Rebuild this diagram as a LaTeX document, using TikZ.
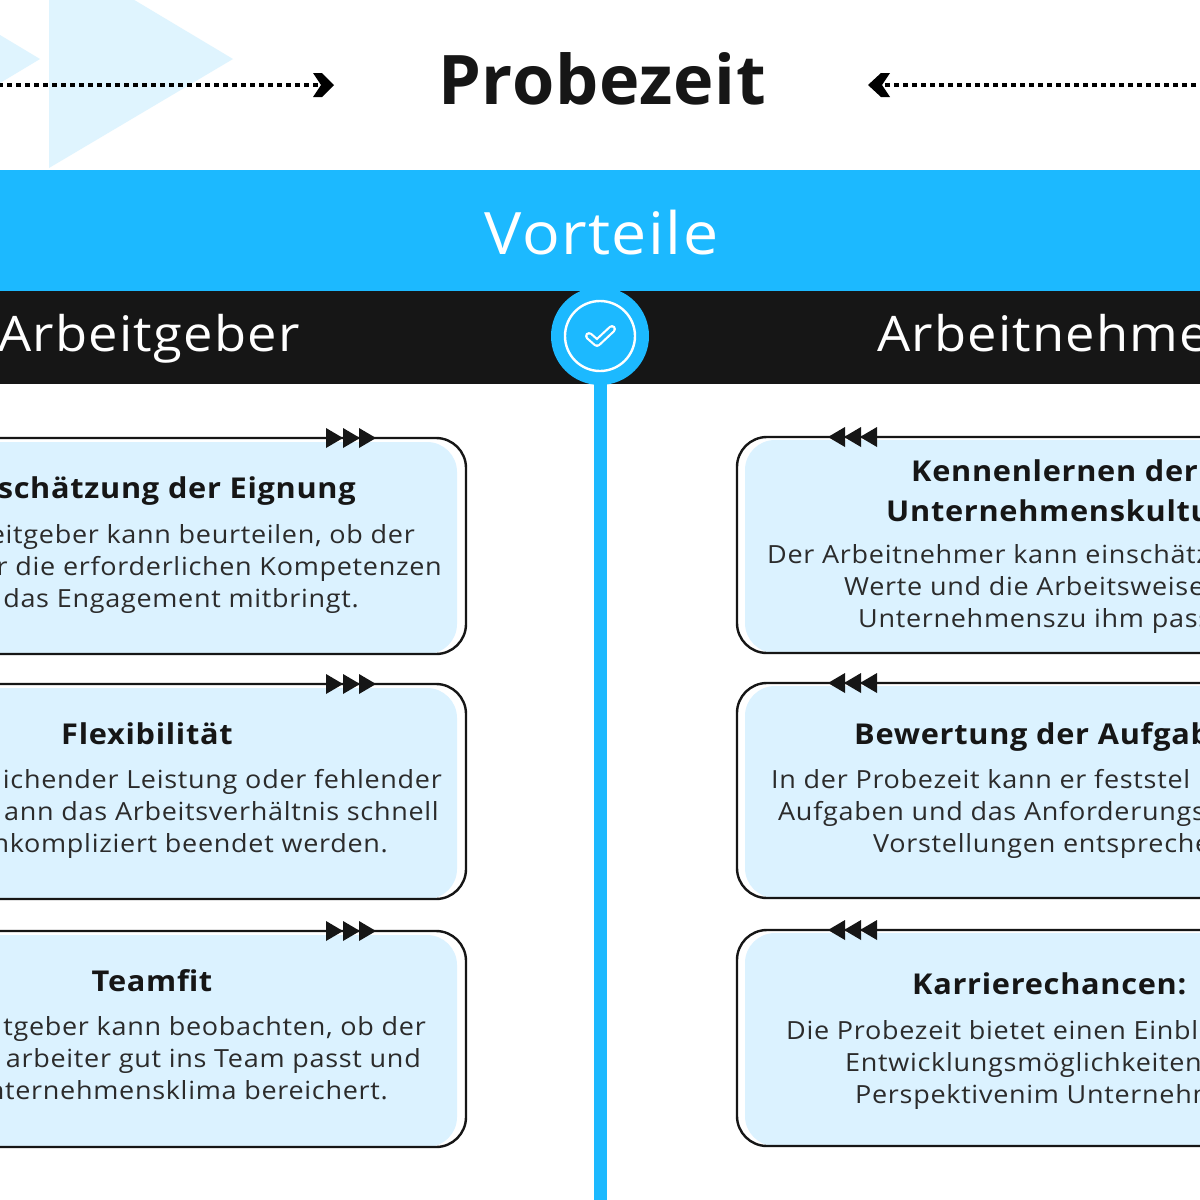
\documentclass[tikz,border=0pt]{standalone}
\usepackage{fontspec}
\setmainfont{Open Sans}[LetterSpace=2.5,FakeStretch=1.07]
\newfontfamily\titlefont{Open Sans}[LetterSpace=1]
\newfontfamily\parafont{Open Sans}[LetterSpace=2.8,FakeStretch=1.08]
\definecolor{sky}{HTML}{1CB9FF}
\definecolor{pale}{HTML}{DBF2FF}
\definecolor{tri}{HTML}{DFF4FE}
\definecolor{ink}{HTML}{161616}
\definecolor{bodyink}{HTML}{2B2B2B}
\tikzset{
  title/.style={inner sep=0pt,text=ink,font=\titlefont\fontsize{68.4}{68}\selectfont\bfseries},
  band/.style={inner sep=0pt,text=white,font=\fontsize{49}{49}\selectfont},
  head/.style={inner sep=0pt,text=ink,font=\fontsize{28.7}{29}\selectfont\bfseries},
  para/.style={inner sep=0pt,text=bodyink,font=\parafont\fontsize{25}{25}\selectfont},
  cardline/.style={draw=ink,line width=2.4pt,rounded corners=30pt},
  cardfill/.style={fill=pale,rounded corners=30pt},
  dots/.style={draw=black,line width=4.5pt,dash pattern=on 4.6pt off 4.4pt},
  chev/.style={fill=black,draw=none},
  tip/.style={fill=ink,draw=none}
}
\newcommand{\leftcard}[2]{%
  \fill[cardfill] (-60,#1+4) -- (457,#1+4) -- (457,#2) -- (-60,#2) -- cycle;
  \draw[cardline] (-60,#1) -- (466,#1) -- (466,#2) -- (-60,#2);
  \foreach \a in {326,343,359}{\fill[tip] (\a,#1-10) -- (\a+17,#1) -- (\a,#1+10) -- cycle;}
}
\newcommand{\rightcard}[2]{%
  \fill[cardfill] (1260,#1+3) -- (745,#1+3) -- (745,#2) -- (1260,#2) -- cycle;
  \draw[cardline] (1260,#1) -- (737,#1) -- (737,#2) -- (1260,#2);
  \foreach \a in {845,861,877}{\fill[tip] (\a,#1-10) -- (\a-17,#1) -- (\a,#1+10) -- cycle;}
}
\begin{document}
\begin{tikzpicture}[x=1pt,y=-1pt]
\useasboundingbox (0,0) rectangle (1200,1200);
\clip (0,0) rectangle (1200,1200);
\fill[white] (0,0) rectangle (1200,1200);
% triangles
\fill[tri] (49,-51) -- (233,59) -- (49,168) -- cycle;
\fill[tri] (-40,11) -- (40,59) -- (-40,107) -- cycle;
% title row
\node[title,anchor=base] (titel) at (602,104) {Probezeit};
\coordinate (la) at (-2,85);
\coordinate (lb) at (318,85);
\coordinate (ra) at (1196,85);
\coordinate (rb) at (885,85);
\draw[dots] (la) -- (lb);
\draw[dots] (ra) -- (rb);
\fill[chev] (313,73) -- (322,73) -- (334,85) -- (322,97) -- (313,97) -- (321,85) -- cycle;
\fill[chev] (890,73) -- (881,73) -- (868,85) -- (881,97) -- (890,97) -- (882,85) -- cycle;
% bands
\fill[sky] (0,170) rectangle (1200,291);
\fill[ink] (0,291) rectangle (1200,384);
\node[band,anchor=base,font=\fontsize{58.5}{60}\selectfont] (vort) at (601.5,254) {Vorteile};
\node[band,anchor=base west] (ag) at (-2,351) {Arbeitgeber};
\node[band,anchor=base west] (an) at (877,351) {Arbeitnehme};
% spine and badge
\fill[sky] (594,380) rectangle (607,1200);
\fill[sky] (600,336) circle[radius=49];
\draw[white,line width=2.4pt] (600,336) circle[radius=35];
\draw[white,line width=8pt,line cap=round,line join=round] (589,336) -- (597,343) -- (612,329);
\draw[sky,line width=3.6pt,line cap=round,line join=round] (589,336) -- (597,343) -- (612,329);
% cards
\leftcard{438}{654}
\leftcard{684}{899}
\leftcard{931}{1147}
\rightcard{437}{653}
\rightcard{683}{898}
\rightcard{930}{1146}
% left card texts
\node[head,anchor=base east] (l1h) at (356,498) {schätzung der Eignung};
\node[para,anchor=base east] (l1a) at (415,543) {eitgeber kann beurteilen, ob der};
\node[para,anchor=base east] (l1b) at (442,575) {r die erforderlichen Kompetenzen};
\node[para,anchor=base east] (l1c) at (359,607) {das Engagement mitbringt.};
\node[head,anchor=base] (l2h) at (147,744) {Flexibilität};
\node[para,anchor=base east] (l2a) at (442,788) {ichender Leistung oder fehlender};
\node[para,anchor=base east] (l2b) at (439,820) {ann das Arbeitsverhältnis schnell};
\node[para,anchor=base east] (l2c) at (388,852) {nkompliziert beendet werden.};
\node[head,anchor=base] (l3h) at (152,991) {Teamfit};
\node[para,anchor=base east] (l3a) at (426,1035) {tgeber kann beobachten, ob der};
\node[para,anchor=base east] (l3b) at (421,1067) {arbeiter gut ins Team passt und};
\node[para,anchor=base east] (l3c) at (388,1099) {nternehmensklima bereichert.};
% right card texts
\node[head,anchor=base west] (r1h) at (911,481) {Kennenlernen der};
\node[head,anchor=base west] (r1i) at (886,521) {Unternehmenskultu};
\node[para,anchor=base west] (r1a) at (767,563) {Der Arbeitnehmer kann einschätz};
\node[para,anchor=base west] (r1b) at (844,595) {Werte und die Arbeitsweise};
\node[para,anchor=base west] (r1c) at (858,627) {Unternehmenszu ihm pass};
\node[head,anchor=base west] (r2h) at (854,744) {Bewertung der Aufgab};
\node[para,anchor=base west] (r2a) at (771,788) {In der Probezeit kann er feststel};
\node[para,anchor=base west] (r2b) at (778,820) {Aufgaben und das Anforderungs};
\node[para,anchor=base west] (r2c) at (873,852) {Vorstellungen entspreche};
\node[head,anchor=base west] (r3h) at (912,994) {Karrierechancen:};
\node[para,anchor=base west] (r3a) at (786,1039) {Die Probezeit bietet einen Einbl};
\node[para,anchor=base west] (r3b) at (845,1071) {Entwicklungsmöglichkeiten};
\node[para,anchor=base west] (r3c) at (855,1103) {Perspektivenim Unternehm};
\end{tikzpicture}
\end{document}
